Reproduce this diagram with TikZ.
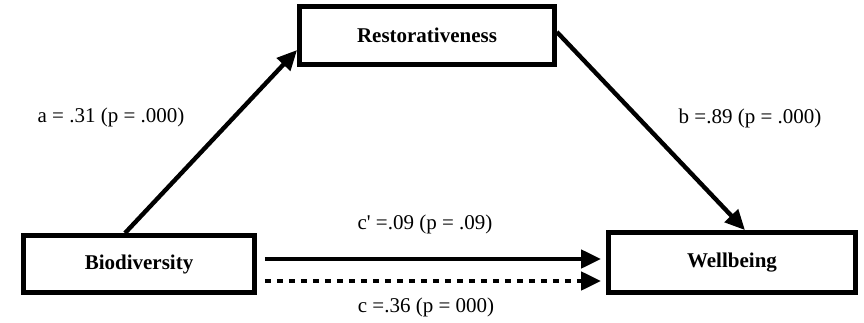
\documentclass[tikz,border=0pt]{standalone}
\usepackage{fontspec}
\setmainfont{Liberation Serif}
\usetikzlibrary{arrows.meta}

\begin{document}
\begin{tikzpicture}[x=0.5pt,y=-0.5pt,
  box/.style={draw,line width=2.4pt,inner sep=0pt,minimum height=29pt,
    font=\fontsize{10.5}{12}\selectfont\bfseries},
  path/.style={line width=2.2pt,-{Triangle[length=10pt,width=9pt]}},
  lbl/.style={font=\fontsize{10.5}{12}\selectfont}]
\useasboundingbox (0,0) rectangle (864,322);
\node[box,minimum width=115.5pt,minimum height=28.5pt] (bio) at (139,264) {Biodiversity};
\node[box,minimum width=127.5pt] (rest) at (427,35.5) {Restorativeness};
\node[box,minimum width=123.5pt,minimum height=30pt] (well) at (732,262.5) {Wellbeing};
\coordinate (cdir) at ([xshift=4pt,yshift=2.5pt]bio.east);
\coordinate (ctot) at ([xshift=4pt,yshift=-8.5pt]bio.east);
\draw[path] ([xshift=-7pt]bio.north) -- ([yshift=-7.25pt]rest.west);
\draw[path] ([yshift=1.75pt]rest.east) -- ([xshift=6.5pt]well.north);
\draw[path,shorten >=2.5pt] (cdir) -- (cdir -| well.west);
\draw[path,shorten >=2.5pt,dash pattern=on 3pt off 3pt] (ctot) -- (ctot -| well.west);
\node[lbl] (la) at (111,117) {a = .31 (p = .000)};
\node[lbl] (lb) at (750,118) {b =.89 (p = .000)};
\node[lbl] (lcd) at (425,224) {c\textquotesingle{} =.09 (p = .09)};
\node[lbl] (lct) at (426,307) {c =.36 (p = 000)};
\end{tikzpicture}
\end{document}
